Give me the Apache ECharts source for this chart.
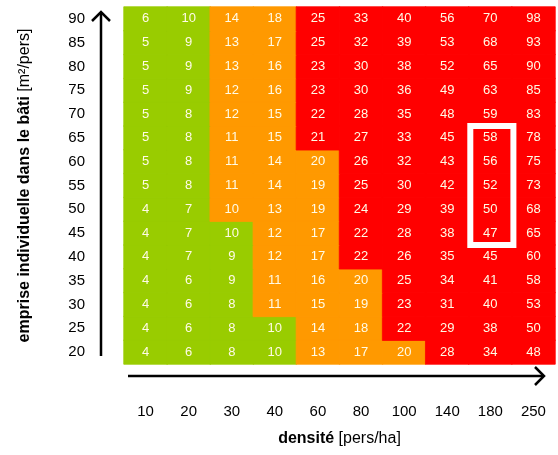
<!DOCTYPE html>
<html>
<head>
<meta charset="utf-8">
<script src="https://cdn.jsdelivr.net/npm/echarts@6/dist/echarts.min.js"></script>
<style>
html,body{margin:0;padding:0;background:#fff;}
#chart{width:558px;height:455px;}
</style>
</head>
<body>
<div id="chart"></div>
<script>
// x categories: densité [pers/ha]
const densities = ['10','20','30','40','60','80','100','140','180','250'];
// y categories: emprise individuelle [m²/pers], bottom to top
const emprises = ['20','25','30','35','40','45','50','55','60','65','70','75','80','85','90'];

// cell values, one row per emprise (bottom row 20 first)
const row20 = [4,6,8,10,13,17,20,28,34,48];
const row25 = [4,6,8,10,14,18,22,29,38,50];
const row30 = [4,6,8,11,15,19,23,31,40,53];
const row35 = [4,6,9,11,16,20,25,34,41,58];
const row40 = [4,7,9,12,17,22,26,35,45,60];
const row45 = [4,7,10,12,17,22,28,38,47,65];
const row50 = [4,7,10,13,19,24,29,39,50,68];
const row55 = [5,8,11,14,19,25,30,42,52,73];
const row60 = [5,8,11,14,20,26,32,43,56,75];
const row65 = [5,8,11,15,21,27,33,45,58,78];
const row70 = [5,8,12,15,22,28,35,48,59,83];
const row75 = [5,9,12,16,23,30,36,49,63,85];
const row80 = [5,9,13,16,23,30,38,52,65,90];
const row85 = [5,9,13,17,25,32,39,53,68,93];
const row90 = [6,10,14,18,25,33,40,56,70,98];
const rows = [row20,row25,row30,row35,row40,row45,row50,row55,row60,row65,row70,row75,row80,row85,row90];

// category class per cell (G = low, O = medium, R = high), bottom row first
const classes = [
  'GGGGOOORRR', // 20
  'GGGGOORRRR', // 25
  'GGGOOORRRR', // 30
  'GGGOOORRRR', // 35
  'GGGOORRRRR', // 40
  'GGGOORRRRR', // 45
  'GGOOORRRRR', // 50
  'GGOOORRRRR', // 55
  'GGOOORRRRR', // 60
  'GGOORRRRRR', // 65
  'GGOORRRRRR', // 70
  'GGOORRRRRR', // 75
  'GGOORRRRRR', // 80
  'GGOORRRRRR', // 85
  'GGOORRRRRR'  // 90
];

// highlighted block
const highlightDensity = '180';
const highlightFrom = '45';
const highlightTo = '65';

const classColor = {G:'#99CC00', O:'#FF9900', R:'#FF0000'};

const heatData = [];
rows.forEach((r, yi) => {
  r.forEach((v, xi) => {
    const c = classColor[classes[yi][xi]];
    heatData.push({value:[xi, yi, v], itemStyle:{color: c, borderColor: c, borderWidth: 0.8}});
  });
});

const FONT = 'Liberation Sans, Arial, sans-serif';
const chart = echarts.init(document.getElementById('chart'), null, {renderer:'canvas'});
chart.setOption({
  animation:false,
  backgroundColor:'#ffffff',
  grid:{left:124, right:3, top:7, bottom:91},
  xAxis:{
    type:'category', data:densities,
    axisLine:{show:false}, axisTick:{show:false}, splitLine:{show:false},
    axisLabel:{margin:40, fontSize:15, color:'#000', fontFamily:FONT},
    name:'{b|densité} [pers/ha]', nameLocation:'middle', nameGap:67,
    nameTextStyle:{fontSize:16, color:'#000', fontFamily:FONT,
      rich:{b:{fontSize:16, fontWeight:'bold', color:'#000', fontFamily:FONT}}}
  },
  yAxis:{
    type:'category', data:emprises,
    axisLine:{show:false}, axisTick:{show:false}, splitLine:{show:false},
    axisLabel:{margin:39, fontSize:15, color:'#000', fontFamily:FONT},
    name:'{b|emprise individuelle dans le bâti} [m²/pers]', nameLocation:'middle', nameRotate:90, nameGap:91,
    nameTextStyle:{fontSize:16, color:'#000', fontFamily:FONT,
      rich:{b:{fontSize:16, fontWeight:'bold', color:'#000', fontFamily:FONT}}}
  },
  series:[
    {
      type:'heatmap',
      data:heatData,
      label:{show:true, color:'#fffbe6', fontSize:13, fontFamily:FONT},
      emphasis:{disabled:true}
    },
    {
      type:'custom',
      data:[[densities.indexOf(highlightDensity), emprises.indexOf(highlightFrom), emprises.indexOf(highlightTo)]],
      renderItem:function(params, api){
        const lo = api.coord([api.value(0), api.value(1)]);
        const hi = api.coord([api.value(0), api.value(2)]);
        const s = api.size([1,1]);
        return {
          type:'rect',
          shape:{x: hi[0]-s[0]/2+1.5, y: hi[1]-s[1]/2, width: s[0], height: lo[1]-hi[1]+s[1]},
          style:{fill:'none', stroke:'#ffffff', lineWidth:6}
        };
      },
      z:5
    }
  ],
  graphic:[
    {type:'polyline', shape:{points:[[101,356],[101,12]]}, style:{stroke:'#000', lineWidth:2.5, fill:'none'}},
    {type:'polyline', shape:{points:[[92,21],[101,12],[110,21]]}, style:{stroke:'#000', lineWidth:2.5, fill:'none'}},
    {type:'polyline', shape:{points:[[128,376],[544,376]]}, style:{stroke:'#000', lineWidth:2.5, fill:'none'}},
    {type:'polyline', shape:{points:[[535,367],[544,376],[535,385]]}, style:{stroke:'#000', lineWidth:2.5, fill:'none'}}
  ]
});
</script>
</body>
</html>
